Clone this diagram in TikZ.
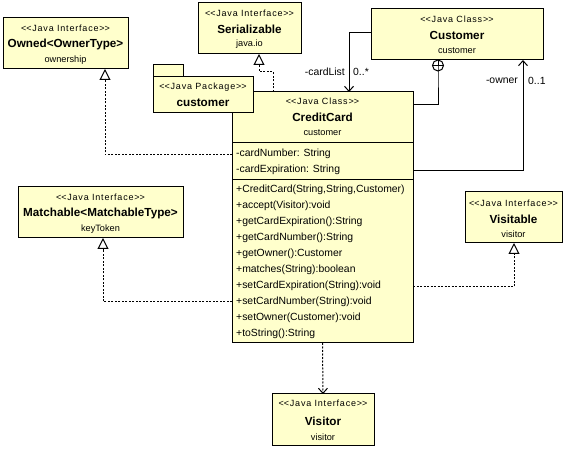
\documentclass[tikz,border=0pt]{standalone}
\usepackage{fontspec}
\setmainfont{Liberation Sans}
\newfontfamily\stereofont[LetterSpace=9]{Liberation Sans}
\usetikzlibrary{arrows.meta,calc}
\definecolor{umlfill}{RGB}{255,255,204}
% guillemet-free stereotype brackets (keep the TeX ligature mapping away)
\newcommand\stopen{<\kern0pt<}
\newcommand\stclose{>\kern0pt>}
\begin{document}
\begin{tikzpicture}[x=1pt,y=-1pt,
  umlbox/.style={draw=black, line width=1pt, fill=umlfill, inner sep=0pt, outer sep=0pt},
  stereo/.style={font=\stereofont\fontsize{9}{10}\selectfont, inner sep=0pt},
  cname/.style={font=\bfseries\fontsize{11.7}{13}\selectfont, inner sep=0pt},
  pkgname/.style={font=\fontsize{9.2}{10}\selectfont, inner sep=0pt},
  member/.style={font=\fontsize{10.4}{12}\selectfont, anchor=west, inner sep=0pt},
  mult/.style={font=\fontsize{10.4}{12}\selectfont, inner sep=0pt},
  conn/.style={draw=black, line width=1pt},
  realize/.style={conn, dash pattern=on 2pt off 1.5pt, -{Triangle[open,width=11pt,length=11pt,line width=1pt]}},
  assoc/.style={conn, -{Straight Barb[length=5pt,width=9pt,line width=1pt]}},
  depend/.style={conn, dash pattern=on 2pt off 1.5pt, -{Straight Barb[length=5pt,width=9pt,line width=1pt]}},
]
\useasboundingbox (0,0) rectangle (571,449);

% ---------- CreditCard class ----------
\node[umlbox, anchor=north west, minimum width=181pt, minimum height=251pt] (cc) at (232,92) {};
\draw[conn] (cc.west |- 0,143) -- (cc.east |- 0,143);
\draw[conn] (cc.west |- 0,180) -- (cc.east |- 0,180);
\node[stereo] (cc-st) at (322.5,101) {\stopen Java Class\stclose};
\node[cname] (cc-nm) at (322.5,117) {CreditCard};
\node[pkgname] (cc-pk) at (322.5,133) {customer};
\node[member] (f1) at (236,154) {-cardNumber: String};
\node[member] (f2) at (236,169.5) {-cardExpiration: String};
\node[member] (m1) at (236,190) {+CreditCard(String,String,Customer)};
\node[member] (m2) at (236,206) {+accept(Visitor):void};
\node[member] (m3) at (236,222) {+getCardExpiration():String};
\node[member] (m4) at (236,238) {+getCardNumber():String};
\node[member] (m5) at (236,254) {+getOwner():Customer};
\node[member] (m6) at (236,270) {+matches(String):boolean};
\node[member] (m7) at (236,286) {+setCardExpiration(String):void};
\node[member] (m8) at (236,302) {+setCardNumber(String):void};
\node[member] (m9) at (236,318) {+setOwner(Customer):void};
\node[member] (m10) at (236,334) {+toString():String};

% ---------- package customer (drawn over the class corner) ----------
\node[umlbox, anchor=north west, minimum width=30pt, minimum height=13pt] (pkgtab) at (153,65) {};
\node[umlbox, anchor=north west, minimum width=100pt, minimum height=36pt] (pkg) at (153,77) {};
\node[stereo] (pkg-st) at (203,87) {\stopen Java Package\stclose};
\node[cname] (pkg-nm) at (203,103) {customer};

% ---------- Owned ----------
\node[umlbox, anchor=north west, minimum width=125pt, minimum height=51pt] (owned) at (3,18) {};
\node[stereo] (owned-st) at (65.5,28) {\stopen Java Interface\stclose};
\node[cname] (owned-nm) at (65.5,44.5) {Owned<OwnerType>};
\node[pkgname] (owned-pk) at (65.5,60) {ownership};

% ---------- Serializable ----------
\node[umlbox, anchor=north west, minimum width=103pt, minimum height=51pt] (ser) at (198,3) {};
\node[stereo] (ser-st) at (249.5,13.5) {\stopen Java Interface\stclose};
\node[cname] (ser-nm) at (249.5,29.5) {Serializable};
\node[pkgname] (ser-pk) at (249.5,44.5) {java.io};

% ---------- Customer ----------
\node[umlbox, anchor=north west, minimum width=172pt, minimum height=51pt] (cust) at (371,9) {};
\node[stereo] (cust-st) at (457,19.5) {\stopen Java Class\stclose};
\node[cname] (cust-nm) at (457,35) {Customer};
\node[pkgname] (cust-pk) at (457,51) {customer};

% ---------- Matchable ----------
\node[umlbox, anchor=north west, minimum width=165pt, minimum height=51pt] (match) at (18,187) {};
\node[stereo] (match-st) at (100.5,197) {\stopen Java Interface\stclose};
\node[cname] (match-nm) at (100.5,213) {Matchable<MatchableType>};
\node[pkgname] (match-pk) at (100.5,229) {keyToken};

% ---------- Visitable ----------
\node[umlbox, anchor=north west, minimum width=97pt, minimum height=51pt] (visable) at (465,192) {};
\node[stereo] (visable-st) at (513.5,203.5) {\stopen Java Interface\stclose};
\node[cname] (visable-nm) at (513.5,219) {Visitable};
\node[pkgname] (visable-pk) at (513.5,234) {visitor};

% ---------- Visitor ----------
\node[umlbox, anchor=north west, minimum width=102pt, minimum height=51pt] (visitor) at (272,394) {};
\node[stereo] (visitor-st) at (323,403.5) {\stopen Java Interface\stclose};
\node[cname] (visitor-nm) at (323,421) {Visitor};
\node[pkgname] (visitor-pk) at (323,437) {visitor};

% ---------- relationships ----------
% realizations
\draw[realize] (cc.west |- 0,155) -| (owned.south -| 105,0);
\draw[realize] (cc.north -| 273,0) -- (273,72) -| (ser.south -| 259,0);
\draw[realize] (cc.west |- 0,302) -| (match.south -| 103,0);
\draw[realize] (cc.east |- 0,287) -| (visable.south -| 514,0);
% dependency on Visitor
\draw[depend] (cc.south) -- (visitor.north);
% association cardList
\draw[assoc] (cust.west |- 0,33) -| (cc.north -| 349,0);
\node[mult, anchor=east] (cardlist) at (345,72) {-cardList};
\node[mult, anchor=west] (cardmult) at (353,72) {0..*};
% association owner
\draw[assoc] (cc.east |- 0,171) -| (cust.south -| 523,0);
\node[mult, anchor=east] (ownerlbl) at (518,81) {-owner};
\node[mult, anchor=west] (ownermult) at (528,81) {0..1};
% nesting: anchor circle on Customer, line to CreditCard
\coordinate (nestc) at ($(cust.south -| 438,0)+(0,5.5)$);
\draw[conn] (nestc) circle[radius=5.5pt];
\draw[conn] ($(nestc)+(-5.5,0)$) -- ($(nestc)+(5.5,0)$);
\draw[conn] (cust.south -| 438,0) -- ($(nestc)+(0,5.5)$) -- (438,105) -- (cc.east |- 0,105);
\end{tikzpicture}
\end{document}
